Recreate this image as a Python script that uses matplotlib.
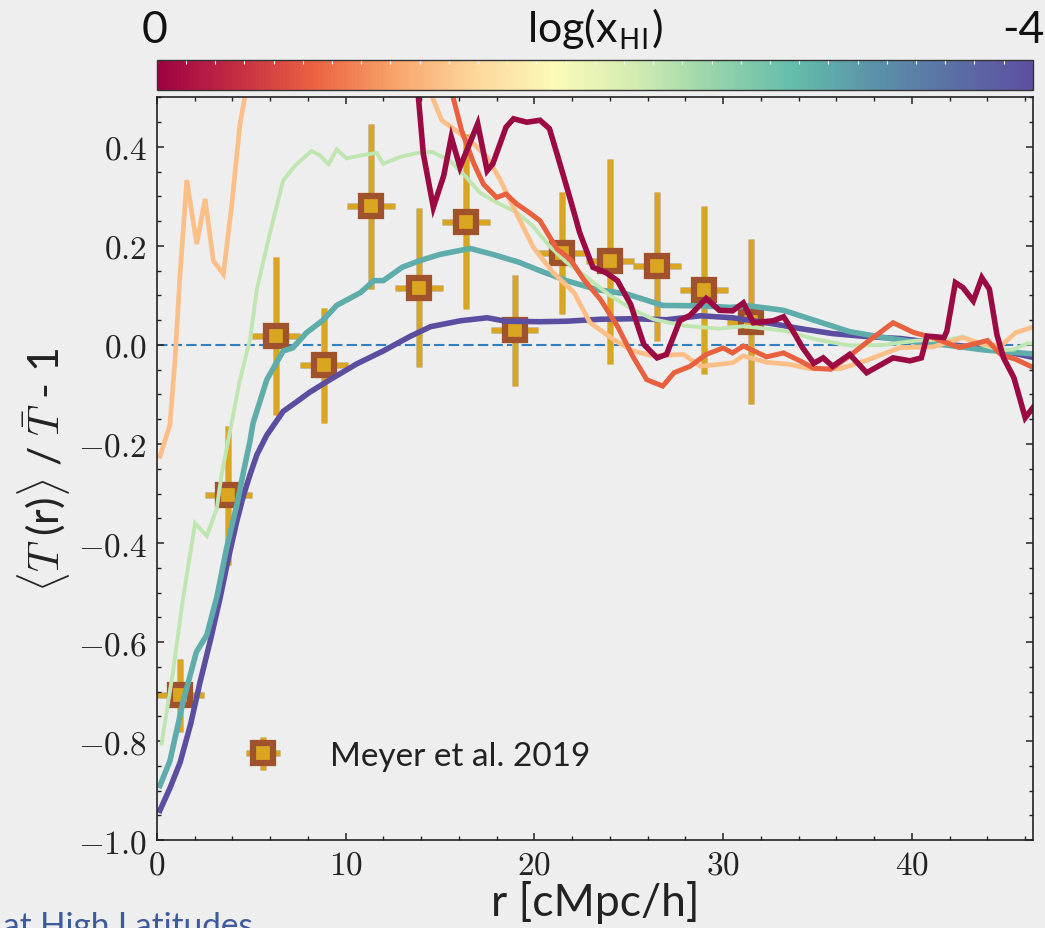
import numpy as np
import matplotlib
matplotlib.use('Agg')
import matplotlib.pyplot as plt
from matplotlib.colors import LinearSegmentedColormap, Normalize
from matplotlib.cm import ScalarMappable
from matplotlib.ticker import MultipleLocator, FuncFormatter, FixedLocator
import matplotlib.transforms as mtransforms
import matplotlib.patheffects as pe

nan = float('nan')

# ---------------- data ----------------
# Meyer et al. 2019 measurements
meyer_r = [1.25, 3.8, 6.3, 8.85, 11.35, 13.9, 16.4, 18.95, 21.45, 24.0, 26.5, 29.0, 31.5]
meyer_y = [-0.708, -0.304, 0.018, -0.041, 0.280, 0.116, 0.249, 0.030, 0.186, 0.169, 0.159, 0.111, 0.047]
meyer_yerr = [0.074, 0.140, 0.160, 0.116, 0.166, 0.160, 0.177, 0.112, 0.123, 0.207, 0.151, 0.169, 0.167]
meyer_xerr = [1.27] * 13

# simulation curves, one per log(x_HI)
purple_r = [0.17, 0.7, 1.24, 1.8, 2.3, 2.85, 3.35, 3.8, 4.24, 4.6, 4.94, 5.3, 5.83, 6.7, 7.4, 8.12,
            9.18, 10.6, 12.0, 13.4, 14.5, 16.1, 17.5, 18.5, 20.3, 21.7, 23.5, 25.2, 27.0, 28.8,
            30.5, 32.3, 34.1, 35.8, 37.6, 39.4, 41.1, 42.9, 44.7, 46.4]
purple_y = [-0.94, -0.895, -0.843, -0.765, -0.68, -0.595, -0.512, -0.43, -0.356, -0.303, -0.262,
            -0.222, -0.182, -0.134, -0.115, -0.095, -0.07, -0.038, -0.012, 0.017, 0.037, 0.049,
            0.055, 0.048, 0.047, 0.048, 0.052, 0.053, 0.051, 0.059, 0.055, 0.045, 0.033, 0.023,
            0.017, 0.013, 0.005, -0.003, -0.011, -0.025]

teal_r = [0.17, 0.7, 1.4, 2.1, 2.65, 3.2, 3.7, 4.24, 4.6, 4.94, 5.1, 5.83, 6.7, 7.2, 7.94, 8.8,
          9.53, 10.8, 11.5, 12.0, 13.0, 13.9, 15.0, 16.6, 17.8, 19.2, 20.3, 21.7, 23.3, 24.9,
          26.8, 28.8, 30.4, 31.4, 33.2, 34.9, 36.7, 38.5, 40.2, 42.0, 43.8, 46.4]
teal_y = [-0.89, -0.84, -0.72, -0.62, -0.586, -0.506, -0.41, -0.323, -0.255, -0.194, -0.158,
          -0.07, -0.012, -0.006, 0.025, 0.05, 0.08, 0.106, 0.13, 0.13, 0.157, 0.17, 0.183, 0.195,
          0.183, 0.167, 0.15, 0.13, 0.112, 0.103, 0.08, 0.079, 0.076, 0.079, 0.07, 0.049, 0.027,
          0.015, 0.006, -0.001, -0.01, -0.018]

green_r = [0.26, 0.86, 1.4, 2.03, 2.65, 3.18, 3.44, 3.9, 4.41, 4.94, 5.3, 6.0, 6.7, 7.4, 8.2, 8.65,
           9.1, 9.53, 10.06, 10.8, 11.65, 12.0, 12.9, 13.8, 14.6, 15.5, 16.4, 17.1, 18.0, 19.06,
           19.9, 20.8, 21.7, 22.95, 24.0, 25.2, 26.3, 27.9, 29.8, 31.1, 33.2, 34.96, 36.7, 38.5,
           40.25, 42.0, 42.7, 43.8, 44.7, 45.4, 46.1, 46.4]
green_y = [-0.805, -0.66, -0.51, -0.36, -0.386, -0.33, -0.26, -0.17, -0.07, 0.011, 0.112, 0.227,
           0.333, 0.365, 0.392, 0.383, 0.365, 0.395, 0.377, 0.383, 0.388, 0.366, 0.38, 0.388,
           0.39, 0.373, 0.339, 0.308, 0.288, 0.268, 0.241, 0.2, 0.167, 0.132, 0.1, 0.072, 0.052,
           0.039, 0.033, 0.038, 0.029, 0.011, -0.001, 0.0, 0.009, 0.011, 0.017, -0.001, -0.011,
           -0.009, 0.003, 0.003]

peach_r = [0.17, 0.7, 0.97, 1.23, 1.59, 2.12, 2.56, 3.0, 3.53, 3.97, 4.4, 4.8, nan,
           14.3, 14.6, 15.1, 16.06, 16.8, 17.5, 18.2, 19.06, 19.95, 21.0, 22.1, 22.95, 24.2,
           25.2, 26.3, 27.9, 28.8, 29.8, 30.5, 31.07, 32.3, 33.5, 34.6, 36.2, 37.6, 39.4, 41.1,
           42.7, 43.8, 44.7, 45.5, 46.4]
peach_y = [-0.225, -0.161, -0.029, 0.14, 0.333, 0.204, 0.295, 0.17, 0.143, 0.282, 0.444, 0.53, nan,
           0.53, 0.5, 0.454, 0.427, 0.406, 0.379, 0.333, 0.265, 0.197, 0.146, 0.106, 0.045, 0.011,
           -0.012, -0.022, -0.019, -0.043, -0.039, -0.036, -0.022, -0.035, -0.039, -0.048, -0.048,
           -0.031, -0.005, -0.004, 0.015, 0.001, -0.002, 0.025, 0.036]

orange_r = [15.5, 15.7, 16.15, 16.8, 17.3, 18.0, 18.5, 19.06, 19.6, 20.3, 21.2, 21.9, 22.6, 23.5,
            24.4, 25.2, 25.95, 26.8, 27.4, 28.25, 29.1, 30.0, 30.5, 31.07, 32.3, 33.2, 34.07,
            34.8, 35.7, 36.7, 37.6, 39.0, 40.1, 41.1, 42.5, 44.0, 44.7, 45.5, 46.4]
orange_y = [0.53, 0.5, 0.433, 0.366, 0.325, 0.298, 0.305, 0.285, 0.271, 0.251, 0.194, 0.173, 0.133,
            0.092, 0.038, -0.022, -0.07, -0.083, -0.056, -0.043, -0.019, -0.006, -0.016, -0.002,
            -0.024, -0.016, -0.032, -0.047, -0.049, -0.022, 0.005, 0.045, 0.025, 0.015, -0.005,
            0.009, -0.019, -0.029, -0.045]

crimson_r = [13.75, 13.86, 14.12, 14.65, 15.2, 15.6, 16.06, 17.0, 17.5, 17.8, 18.5, 18.9, 19.6,
             20.3, 20.8, 21.2, 21.9, 22.4, 23.1, 23.8, 24.4, 25.1, 25.8, 26.5, 27.0, 27.7, 28.25,
             29.1, 29.8, 30.5, 31.07, 31.6, 32.66, 33.2, 33.7, 34.2, 34.8, 35.3, 35.8, 36.7, 37.6,
             39.0, 39.9, 40.5, 40.8, 41.7, 41.85, 42.3, 42.7, 43.25, 43.7, 44.1, 44.5, 44.85, 45.4,
             46.0, 46.4]
crimson_y = [0.55, 0.5, 0.386, 0.278, 0.342, 0.42, 0.359, 0.447, 0.352, 0.366, 0.44, 0.457, 0.45,
             0.454, 0.437, 0.386, 0.295, 0.227, 0.157, 0.146, 0.13, 0.082, 0.001, -0.026, -0.019,
             0.049, 0.06, 0.094, 0.07, 0.069, 0.085, 0.045, 0.049, 0.057, 0.028, -0.005, -0.037,
             -0.026, -0.043, -0.019, -0.056, -0.026, -0.032, -0.026, 0.018, 0.015, 0.028, 0.126,
             0.116, 0.089, 0.136, 0.113, 0.021, -0.026, -0.066, -0.147, -0.127]

# colorbar colours (log x_HI = 0 -> -4)
cbar_colors = ['#9e0142', '#c52d43', '#ec6442', '#f8a56c', '#fdd79c', '#fbfbb8', '#d3ecb1',
               '#97d4ab', '#64bdaa', '#5b93a8', '#5b70a5', '#5e4fa2']
cbar_ticks = [0, -4]
cbar_ticklabels = ['0', '-4']

x_ticks = [0, 10, 20, 30, 40]

# ---------------- style ----------------
BG = '#eeeeee'
plt.rcParams['mathtext.fontset'] = 'cm'
plt.rcParams['font.family'] = ['Lato', 'DejaVu Sans']

fig = plt.figure(figsize=(10.45, 9.29), dpi=100, facecolor=BG)
ax = fig.add_axes([0.15, 0.0947, 0.8383, 0.7993], facecolor=BG)
cax = fig.add_axes([0.15, 0.902, 0.8383, 0.0325])

# reference line
ax.axhline(0.0, color='#2f7fc1', lw=1.5, ls=(0, (5, 2)), zorder=1.2)

# data points (under the curves)
eb = ax.errorbar(meyer_r, meyer_y, xerr=meyer_xerr, yerr=meyer_yerr, fmt='s', ms=14,
                 mfc='#daa520', mec='#a0522d', mew=4.5, ecolor='#daa520', elinewidth=3.8,
                 capsize=0, zorder=1.5, label='Meyer et al. 2019')
for lc in eb[2]:
    lc.set_path_effects([pe.Stroke(linewidth=5.0, foreground='#c4c0b8'), pe.Normal()])

curves = [
    (purple_r, purple_y, '#5b4ea1', 4.0),
    (teal_r, teal_y, '#5fadab', 4.0),
    (green_r, green_y, '#bfe6b1', 2.8),
    (peach_r, peach_y, '#fdbf88', 3.4),
    (orange_r, orange_y, '#e8603e', 3.6),
    (crimson_r, crimson_y, '#9b0a42', 4.0),
]
for i, (xr, yr, c, lw) in enumerate(curves):
    ax.plot(xr, yr, color=c, lw=lw, zorder=2 + 0.1 * i, solid_joinstyle='miter')

ax.set_xlim(0, 46.4)
ax.set_ylim(-1.0, 0.5)
ax.xaxis.set_major_locator(FixedLocator(x_ticks))
ax.xaxis.set_minor_locator(MultipleLocator(2))
ax.yaxis.set_major_locator(MultipleLocator(0.2))
ax.yaxis.set_minor_locator(MultipleLocator(0.05))


def yfmt(v, p):
    if abs(v) < 1e-9:
        v = 0.0
    return r'$%.1f$' % v


ax.yaxis.set_major_formatter(FuncFormatter(yfmt))
ax.xaxis.set_major_formatter(FuncFormatter(lambda v, p: r'$%d$' % round(v)))
ax.tick_params(which='both', direction='in', top=True, right=True, colors='#222222',
               labelcolor='#222222')
ax.tick_params(which='major', length=5, width=1.1, labelsize=24, pad=7)
ax.tick_params(which='minor', length=3, width=1.0)
for s in ax.spines.values():
    s.set_color('#222222')
    s.set_linewidth(1.2)

ax.set_ylabel(r'$\langle T$ (r)$\rangle$ / $\bar{T}$ - 1', fontsize=31, color='#222222', labelpad=4)
ax.set_xlabel('r [cMpc/h]', fontsize=32, color='#222222', labelpad=0)

leg = ax.legend(loc='center left', bbox_to_anchor=(0.068, 0.113), frameon=False, fontsize=24,
                handletextpad=1.0, borderaxespad=0)
for t in leg.get_texts():
    t.set_color('#222222')

# colorbar (0 on the left, -4 on the right)
cmap = LinearSegmentedColormap.from_list('xhi', cbar_colors[::-1])
sm = ScalarMappable(norm=Normalize(vmin=-4, vmax=0), cmap=cmap)
cb = fig.colorbar(sm, cax=cax, orientation='horizontal')
cax.invert_xaxis()
cb.set_ticks([])
cax.set_xticks(list(np.linspace(0, -4, 31)), minor=True)
cax.tick_params(axis='x', which='minor', direction='in', length=3, width=0.8, colors='white',
                top=True, bottom=False)
cb.outline.set_edgecolor('#333333')
cb.outline.set_linewidth(1.0)

blend = mtransforms.blended_transform_factory(cax.transData, cax.transAxes)
label_shift = [-2, -9]
for v, s, dx in zip(cbar_ticks, cbar_ticklabels, label_shift):
    tr = mtransforms.offset_copy(blend, fig=fig, x=dx, y=0, units='dots')
    cax.text(v, 1.6, s, transform=tr, ha='center', va='baseline', fontsize=32, color='#111111')
cax.text(0.5, 1.6, r'log(x$_{\mathsf{HI}}$)', transform=cax.transAxes, ha='center',
         va='baseline', fontsize=31, color='#111111')

fig.text(0.003, 1 - 912 / 929, 'at High Latitudes', color='#3d5a9c', fontsize=24, va='top')

fig.savefig('out.png', dpi=100, facecolor=BG)
